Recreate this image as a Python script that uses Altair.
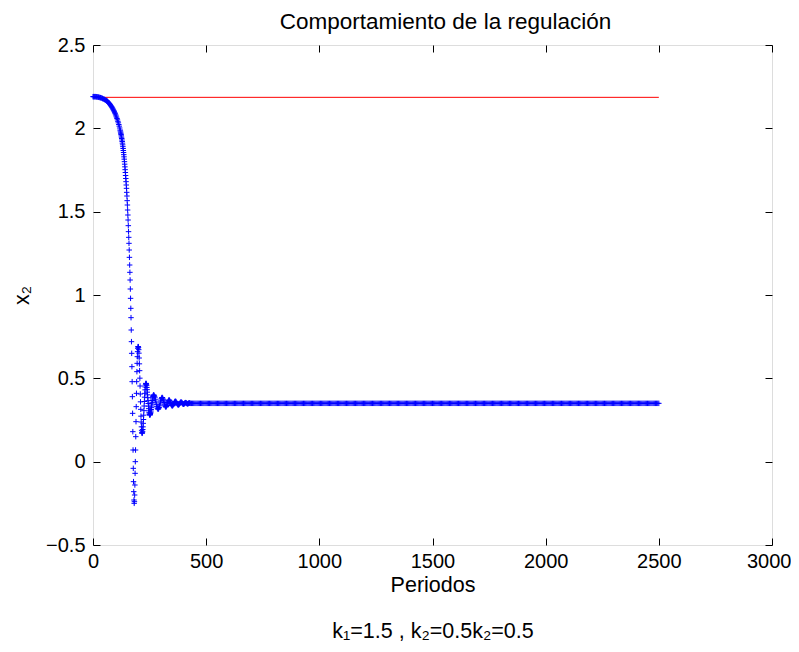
import altair as alt
import pandas as pd

# ---- data ----
early_periods = list(range(0, 60, 3))
early_values = [2.19, 2.19, 2.19, 2.19, 2.19, 2.189, 2.189, 2.188, 2.187, 2.186,
                2.185, 2.184, 2.183, 2.181, 2.179, 2.177, 2.175, 2.173, 2.171, 2.168]

slow_periods = list(range(60, 121, 2))
slow_values = [2.166, 2.164, 2.161, 2.158, 2.155, 2.152, 2.149, 2.146, 2.142, 2.138,
               2.134, 2.130, 2.126, 2.121, 2.116, 2.111, 2.106, 2.100, 2.094, 2.088,
               2.081, 2.074, 2.067, 2.059, 2.051, 2.042, 2.033, 2.023, 2.013, 2.002, 1.990]

fast_periods = list(range(121, 269))
fast_values = [
    1.984, 1.977, 1.970, 1.963, 1.955, 1.947, 1.939, 1.930, 1.921, 1.911,
    1.901, 1.890, 1.879, 1.867, 1.855, 1.842, 1.829, 1.815, 1.800, 1.785,
    1.769, 1.752, 1.735, 1.717, 1.699,
    1.680, 1.660, 1.640, 1.616, 1.594, 1.566, 1.540, 1.510, 1.480, 1.450,
    1.416, 1.380, 1.346, 1.310, 1.270, 1.226, 1.180, 1.136, 1.090, 1.036,
    0.980, 0.920, 0.864,
    0.79, 0.72, 0.65, 0.57, 0.48, 0.39, 0.29, 0.18, 0.07, -0.04, -0.12, -0.18, -0.23, -0.25,
    -0.24, -0.20, -0.14, -0.07, 0.0, 0.07, 0.15, 0.24, 0.33, 0.41, 0.48, 0.54, 0.59, 0.63,
    0.66, 0.68, 0.69,
    0.69, 0.686, 0.672, 0.651, 0.622, 0.587, 0.546, 0.501, 0.454, 0.406, 0.359, 0.314,
    0.273, 0.238, 0.209, 0.188, 0.174, 0.17,
    0.173, 0.180, 0.193, 0.209, 0.230, 0.253, 0.279, 0.306, 0.334, 0.361, 0.387, 0.410,
    0.431, 0.448, 0.460, 0.467, 0.47,
    0.468, 0.464, 0.456, 0.445, 0.432, 0.417, 0.401, 0.384, 0.366, 0.349, 0.333, 0.318,
    0.305, 0.294, 0.286, 0.282, 0.28,
    0.281, 0.284, 0.289, 0.296, 0.304, 0.313, 0.324, 0.334, 0.346, 0.356, 0.367, 0.376,
    0.384, 0.391, 0.396, 0.399, 0.40,
]

settle_periods = list(range(270, 431, 2))
settle_values = [
    0.398, 0.392, 0.383, 0.371, 0.358, 0.344, 0.332, 0.322, 0.317, 0.315,
    0.318, 0.325, 0.335, 0.346, 0.358, 0.369, 0.378, 0.384, 0.385, 0.381,
    0.374, 0.365, 0.355, 0.345, 0.336, 0.330, 0.328, 0.331, 0.337, 0.345,
    0.354, 0.362, 0.368, 0.370, 0.368, 0.363, 0.356, 0.349, 0.342, 0.337,
    0.335, 0.336, 0.340, 0.345, 0.351, 0.357, 0.361, 0.362, 0.361, 0.357,
    0.352, 0.347, 0.343, 0.341, 0.341, 0.343, 0.347, 0.351, 0.355, 0.357,
    0.357, 0.355, 0.352, 0.348, 0.346, 0.345, 0.346, 0.349, 0.352, 0.354,
    0.354, 0.352, 0.350, 0.348, 0.347, 0.348, 0.350, 0.352, 0.352, 0.351, 0.35,
]

tail_periods = list(range(435, 2501, 5))
tail_level = 0.35
tail_values = [tail_level] * len(tail_periods)

ref_start = [0]
ref_end = [2500]
ref_level = [2.186]

x_ticks = [0, 500, 1000, 1500, 2000, 2500, 3000]
y_ticks = [-0.5, 0, 0.5, 1, 1.5, 2, 2.5]

title_text = "Comportamiento de la regulación"
x_title = ["Periodos", "k₁=1.5 , k₂=0.5k₂=0.5"]
y_title = "x₂"

# ---- build table ----
periods, values = [], []
for p, v in [(early_periods, early_values), (slow_periods, slow_values),
             (fast_periods, fast_values), (settle_periods, settle_values),
             (tail_periods, tail_values)]:
    if len(p) != len(v):
        raise ValueError(f"length mismatch {len(p)} vs {len(v)}")
    periods += p
    values += v

df = pd.DataFrame({"periodo": periods, "x2": values})
ref_df = pd.DataFrame({"inicio": ref_start, "fin": ref_end, "nivel": ref_level})

FONT = "Liberation Sans"
TICK = 7
xscale = alt.Scale(domain=[0, 3000], nice=False, zero=False)
yscale = alt.Scale(domain=[-0.5, 2.5], nice=False, zero=False)

common_axis = dict(offset=-TICK, tickSize=TICK, domain=False, grid=False,
                   tickColor="black", tickWidth=1, labelColor="black",
                   labelFont=FONT, labelFontSize=20, titleFont=FONT,
                   labelFlush=False, labelOverlap=False,
                   titleFontSize=21.5, titleFontWeight="normal", titleColor="black")

rule = alt.Chart(ref_df).mark_rule(color="#ff0000", strokeWidth=1).encode(
    x=alt.X("inicio:Q", scale=xscale,
            axis=alt.Axis(orient="top", values=x_ticks, labels=False, title=None,
                          **common_axis)),
    x2="fin:Q",
    y=alt.Y("nivel:Q", scale=yscale,
            axis=alt.Axis(orient="right", values=y_ticks, labels=False, title=None,
                          **common_axis)),
)

last_x = f"datum.value == {x_ticks[-1]}"
points = alt.Chart(df).mark_point(
    shape="M-1,0L1,0M0,-1L0,1", filled=False, stroke="#0000ff",
    strokeWidth=1, size=30, opacity=1
).encode(
    x=alt.X("periodo:Q", scale=xscale,
            axis=alt.Axis(orient="bottom", values=x_ticks, title=x_title, format="d",
                          labelPadding=6, titlePadding=3, titleLineHeight=46,
                          labelAlign=alt.condition(last_x, alt.value("right"), alt.value("center")),
                          labelOffset=alt.condition(last_x, alt.value(19), alt.value(0)),
                          **common_axis)),
    y=alt.Y("x2:Q", scale=yscale,
            axis=alt.Axis(orient="left", values=y_ticks, title=y_title, format="~g",
                          labelPadding=8, titlePadding=12, **common_axis)),
)

chart = alt.layer(rule, points).resolve_axis(
    x="independent", y="independent"
).properties(
    width=679, height=500,
    title=alt.TitleParams(title_text, font=FONT, fontSize=22.5, fontWeight="normal",
                          color="black", anchor="middle", offset=2, dx=13),
    padding={"left": 85, "top": 37, "right": 19, "bottom": 99},
    autosize=alt.AutoSizeParams(type="none"),
).configure_view(stroke="black", strokeWidth=1).configure(background="white")

chart.save("out.html", embed_options={"renderer": "svg", "actions": False})
